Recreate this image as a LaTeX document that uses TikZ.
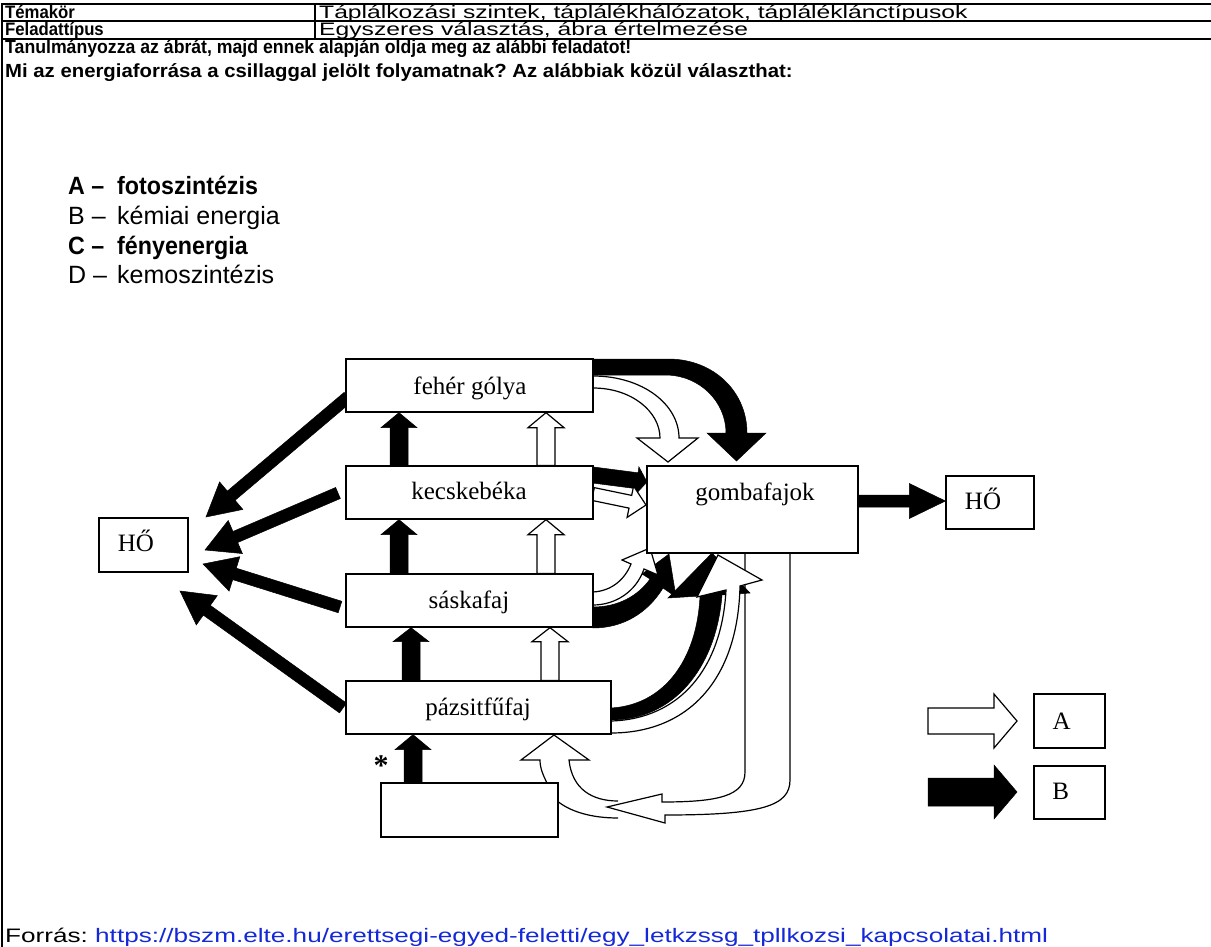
\documentclass[tikz,border=0pt]{standalone}
\usepackage{fontspec}
\setmainfont{Liberation Sans}
\newfontfamily\rowfont[FakeStretch=1.37]{Liberation Sans}
\newfontfamily\headA[FakeStretch=0.93]{Liberation Sans}
\newfontfamily\headB[FakeStretch=1.07]{Liberation Sans}
\newfontfamily\srcfont[FakeStretch=1.34]{Liberation Sans}
\newfontfamily\figfont{Liberation Serif}
\usetikzlibrary{calc}
\pgfdeclarelayer{back}
\pgfsetlayers{back,main}
\definecolor{linkblue}{RGB}{20,40,215}
\frenchspacing

% straight block arrow: [style]{start}{tip}{half shaft}{half head}{head length}
\newcommand\blockarrow[6][]{%
  \path[#1] ($(#3)!#6!(#2)$) coordinate (hb)
    ($(#2)!#4!90:(#3)$) -- ($(hb)!#4!-90:(#2)$) -- ($(hb)!#5!-90:(#2)$)
    -- (#3) -- ($(hb)!#5!90:(#2)$) -- ($(hb)!#4!90:(#2)$)
    -- ($(#2)!#4!-90:(#3)$) -- cycle;}

\tikzset{
  box/.style={draw, line width=1.3pt, fill=white, inner sep=0pt},
  lbl/.style={font=\figfont\fontsize{25}{28}\selectfont, inner sep=0pt, anchor=base},
  blk/.style={fill=black, draw=black, line width=0.5pt, line join=miter},
  wht/.style={fill=white, draw=black, line width=1.2pt, line join=miter},
  wline/.style={draw=black, line width=1.2pt, line join=miter},
  rowkey/.style={font=\headA\bfseries\fontsize{18}{20}\selectfont, inner sep=0pt, anchor=base west},
  rowval/.style={font=\rowfont\fontsize{18}{20}\selectfont, inner sep=0pt, anchor=base west},
  opt/.style={font=\fontsize{25}{29}\selectfont, inner sep=0pt, anchor=base west},
  optb/.style={font=\headA\bfseries\fontsize{25}{29}\selectfont, inner sep=0pt, anchor=base west},
  rule/.style={line width=1.3pt},
}

\begin{document}
\begin{tikzpicture}[x=1pt,y=-1pt]
\useasboundingbox (0,0) rectangle (1211,947);

% ---- task table ----
\draw[rule] (1211,4) -- (2,4) -- (2,947);
\draw[rule] (2,21) -- (1211,21) (2,39) -- (1211,39) (315,4) -- (315,39);

\node[rowkey] (t1)  at (5,18.5)   {Témakör};
\node[rowval] (t1v) at (319,18.5) {Táplálkozási szintek, táplálékhálózatok, tápláléklánctípusok};
\node[rowkey] (t2)  at (5,36)     {Feladattípus};
\node[rowval] (t2v) at (319,36)   {Egyszeres választás, ábra értelmezése};
\node[rowkey, font=\headA\bfseries\fontsize{19}{21}\selectfont] (q1) at (5,54)
  {Tanulmányozza az ábrát, majd ennek alapján oldja meg az alábbi feladatot!};
\node[rowkey, font=\headB\bfseries\fontsize{19}{21}\selectfont] (q2) at (5,78)
  {Mi az energiaforrása a csillaggal jelölt folyamatnak? Az alábbiak közül választhat:};

\node[optb] (oA)  at (68,194.5)  {A –};
\node[optb] (oAt) at (117,194.5) {fotoszintézis};
\node[opt]  (oB)  at (68,224)    {B –};
\node[opt]  (oBt) at (117,224)   {kémiai energia};
\node[optb] (oC)  at (68,254)    {C –};
\node[optb] (oCt) at (117,254)   {fényenergia};
\node[opt]  (oD)  at (68,283.5)  {D –};
\node[opt]  (oDt) at (117,283.5) {kemoszintézis};

\node[rowval, font=\srcfont\fontsize{19.5}{21}\selectfont] (forras) at (5,942)
  {Forrás: \textcolor{linkblue}{\underline{https://bszm.elte.hu/erettsegi-egyed-feletti/egy\_letkzssg\_tpllkozsi\_kapcsolatai.html}}};

% ---- food web boxes ----
\node[box, minimum width=247pt, minimum height=53pt] (fg) at (469.5,385.5) {};
\node[box, minimum width=247pt, minimum height=53pt] (kb) at (469.5,492.5) {};
\node[box, minimum width=247pt, minimum height=53pt] (sk) at (469.5,600.5) {};
\node[box, minimum width=265pt, minimum height=53pt] (pf) at (478.5,707.5) {};
\node[box, minimum width=177pt, minimum height=54pt] (src) at (469.5,810) {};
\node[box, minimum width=211pt, minimum height=87pt] (gomba) at (752.5,509.5) {};
\node[box, minimum width=89pt, minimum height=54pt] (hoL) at (143.5,545) {};
\node[box, minimum width=88pt, minimum height=53pt] (hoR) at (990,502.5) {};
\node[box, minimum width=71pt, minimum height=54pt] (legA) at (1069.5,721) {};
\node[box, minimum width=71pt, minimum height=53pt] (legB) at (1069.5,792.5) {};

\node[lbl] (fgT) at (470,394) {fehér gólya};
\node[lbl] (kbT) at (469,499) {kecskebéka};
\node[lbl] (skT) at (469,608.3) {sáskafaj};
\node[lbl] (pfT) at (478,715) {pázsitfűfaj};
\node[lbl] (gombaT) at (755,500) {gombafajok};
\node[lbl] (hoLT) at (136,551.7) {HŐ};
\node[lbl] (hoRT) at (983,509.3) {HŐ};
\node[lbl] (legAT) at (1061.7,729.3) {A};
\node[lbl] (legBT) at (1060.8,799.3) {B};
\node[font=\figfont\bfseries\fontsize{30}{30}\selectfont, inner sep=0pt] (star) at (381,766) {*};

% ---- arrow end points ----
\coordinate (colB) at (399,0);  \coordinate (colW) at (546,0);
\coordinate (colB2) at (411,0); \coordinate (colW2) at (550,0);
\coordinate (colB3) at (413,0);
\coordinate (v1a) at (kb.north -| colB);  \coordinate (v1b) at (fg.south -| colB);
\coordinate (v2a) at (sk.north -| colB);  \coordinate (v2b) at (kb.south -| colB);
\coordinate (v3a) at (pf.north -| colB2); \coordinate (v3b) at (sk.south -| colB2);
\coordinate (v4a) at (src.north -| colB3); \coordinate (v4b) at (pf.south -| colB3);
\coordinate (w1a) at (kb.north -| colW);  \coordinate (w1b) at (fg.south -| colW);
\coordinate (w2a) at (sk.north -| colW);  \coordinate (w2b) at (kb.south -| colW);
\coordinate (w3a) at (pf.north -| colW2); \coordinate (w3b) at (sk.south -| colW2);

\coordinate (h1a) at (348,397); \coordinate (h1b) at (206,517);
\coordinate (h2a) at (338,493); \coordinate (h2b) at (205,550);
\coordinate (h3a) at (340,607); \coordinate (h3b) at (203,564);
\coordinate (h4a) at (343,708); \coordinate (h4b) at (180,591);

\coordinate (kgBa) at (593,475); \coordinate (kgBb) at (647,482);
\coordinate (kgWa) at (593,494); \coordinate (kgWb) at (646,505);
\coordinate (ghA) at (gomba.east |- 0,501); \coordinate (ghB) at (hoR.west |- 0,501);

\coordinate (lwa) at (928,721); \coordinate (lwb) at (1017,721);
\coordinate (lba) at (928,792); \coordinate (lbb) at (1017,792);

\begin{pgfonlayer}{back}
  % feeding links between the levels
  \blockarrow[blk]{v1a}{v1b}{9pt}{18pt}{15pt}
  \blockarrow[blk]{v2a}{v2b}{9pt}{18pt}{15pt}
  \blockarrow[blk]{v3a}{v3b}{9pt}{18pt}{14pt}
  \blockarrow[blk]{v4a}{v4b}{9pt}{18pt}{15pt}
  \blockarrow[wht]{w1a}{w1b}{9pt}{18pt}{15pt}
  \blockarrow[wht]{w2a}{w2b}{9pt}{18pt}{15pt}
  \blockarrow[wht]{w3a}{w3b}{9pt}{18pt}{14pt}

  % heat losses
  \blockarrow[blk]{h1a}{h1b}{6pt}{18pt}{33pt}
  \blockarrow[blk]{h2a}{h2b}{6pt}{18pt}{33pt}
  \blockarrow[blk]{h3a}{h3b}{6pt}{18pt}{33pt}
  \blockarrow[blk]{h4a}{h4b}{6pt}{18pt}{33pt}
  \blockarrow[blk]{ghA}{ghB}{6pt}{17.5pt}{36pt}

  % stork -> fungi
  \path[blk] (593,359) -- (668,359) .. controls (714,359) and (747,392) .. (747,433)
    -- (766,433) -- (736.5,461) -- (707,433) -- (726,433)
    .. controls (726,402) and (700,375) .. (665,375) -- (593,375) -- cycle;
  \path[wht] (593,376) .. controls (642,376) and (679,404) .. (679,438)
    -- (698,438) -- (668,462) -- (637,438) -- (660,438)
    .. controls (660,412) and (632,388) .. (593,388) -- cycle;

  % frog -> fungi
  \blockarrow[blk]{kgBa}{kgBb}{8pt}{14pt}{10pt}
  \blockarrow[wht]{kgWa}{kgWb}{6.5pt}{16pt}{16pt}

  % source box -> grass (curved hollow arrow)
  \path[fill=white] (547,783) -- (540,760) -- (521,760) -- (554,735) -- (589,760) -- (569,760)
    .. controls (572,789) and (592,801) .. (618,801) -- (618,818)
    .. controls (592,818) and (570,812) .. (556,800) -- cycle;
  \draw[wline] (547,783) .. controls (543,775) and (540,768) .. (540,760) -- (521,760) -- (554,735) -- (589,760) -- (569,760)
    .. controls (572,789) and (592,801) .. (618,801);
  \draw[wline] (618,818) .. controls (592,818) and (570,812) .. (556,800);

  % fungi -> source box
  \path[wht] (745,553) -- (745,772) .. controls (745,796) and (718,802) .. (662,802)
    -- (662,794) -- (607,807) -- (665,823) -- (665,815)
    .. controls (762,815) and (790,806) .. (790,780) -- (790,553) -- cycle;

  % grasshopper -> fungi
  \path[blk] (593,607) .. controls (618,607) and (638,596) .. (650,579)
    -- (642,574) -- (669,554) -- (676,597) -- (663,588)
    .. controls (647,614) and (622,628) .. (593,628) -- cycle;
  \path[wht] (593,592) .. controls (612,591) and (625,579) .. (631,564)
    -- (622,560) -- (650,548) -- (658,575) -- (644,569)
    .. controls (636,592) and (615,605) .. (593,605) -- cycle;

  % grass -> fungi
  \path[blk] (611,708) .. controls (664,705) and (697,660) .. (700,596)
    -- (668,598) -- (712,553) -- (750,593) -- (722,595)
    .. controls (716,670) and (672,720) .. (611,720) -- cycle;
  \path[wht] (611,721) .. controls (680,719) and (722,668) .. (726,590)
    -- (697,597) -- (718,555) -- (762,580) -- (740,586)
    .. controls (738,680) and (688,733) .. (611,733) -- cycle;

  % legend arrows
  \blockarrow[wht]{lwa}{lwb}{13pt}{27pt}{23pt}
  \blockarrow[blk]{lba}{lbb}{14pt}{27pt}{23pt}
\end{pgfonlayer}
\end{tikzpicture}
\end{document}
